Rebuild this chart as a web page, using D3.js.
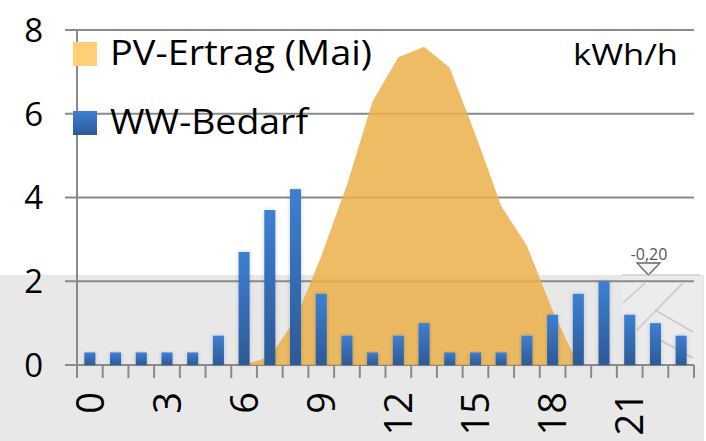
<!DOCTYPE html>
<html>
<head>
<meta charset="utf-8">
<script src="https://cdn.jsdelivr.net/npm/d3@7"></script>
<style>
  body { margin: 0; background: #fff; }
  text { font-family: "Open Sans", "Noto Sans", sans-serif; fill: #000; }
</style>
</head>
<body>
<div id="chart"></div>
<script>
// hours of the day
const hours = d3.range(0, 24);
// hot water demand (kWh/h)
const wwBedarf = [0.3, 0.3, 0.3, 0.3, 0.3, 0.7, 2.7, 3.7, 4.2, 1.7, 0.7, 0.3,
                  0.7, 1.0, 0.3, 0.3, 0.3, 0.7, 1.2, 1.7, 2.0, 1.2, 1.0, 0.7];
// PV yield in May (kWh/h)
const pvErtrag = [0, 0, 0, 0, 0, 0, 0, 0.2, 1.1, 2.6, 4.3, 6.3,
                  7.35, 7.6, 7.1, 5.5, 3.8, 2.85, 1.3, 0, 0, 0, 0, 0];
const yTicks = [0, 2, 4, 6, 8];
const xLabelHours = [0, 3, 6, 9, 12, 15, 18, 21];

const width = 706, height = 441;
const margin = { top: 30, right: 12, bottom: 76, left: 77 };

const svg = d3.select("#chart").append("svg")
  .attr("width", width)
  .attr("height", height);

const defs = svg.append("defs");
const grad = defs.append("linearGradient")
  .attr("id", "barGrad").attr("x1", 0).attr("y1", 0).attr("x2", 0).attr("y2", 1);
grad.append("stop").attr("offset", "0%").attr("stop-color", "#3d7fd3");
grad.append("stop").attr("offset", "100%").attr("stop-color", "#2c5a97");
const filt = defs.append("filter").attr("id", "shadow")
  .attr("x", "-50%").attr("y", "-10%").attr("width", "200%").attr("height", "120%");
filt.append("feDropShadow").attr("dx", 0).attr("dy", 0).attr("stdDeviation", 2)
  .attr("flood-color", "#000").attr("flood-opacity", 0.18);

// grey background strip in the lower part (image overlay)
svg.append("rect").attr("x", 0).attr("y", 275).attr("width", 704).attr("height", 166)
  .attr("fill", "#e8e8e8");
svg.append("rect").attr("x", 622).attr("y", 275).attr("width", 80).attr("height", 92)
  .attr("fill", "#ececec");

const x = d3.scaleBand().domain(hours)
  .range([margin.left, width - margin.right]).paddingInner(0.57).paddingOuter(0.285);
const xb = d3.scaleLinear().domain([0, 24]).range([margin.left, width - margin.right]);
const y = d3.scaleLinear().domain([0, 8]).range([height - margin.bottom, margin.top]);

// gridlines
svg.append("g").selectAll("line").data(yTicks).join("line")
  .attr("x1", margin.left - 12).attr("x2", width - margin.right)
  .attr("y1", d => y(d)).attr("y2", d => y(d))
  .attr("stroke", "#8a8a8a").attr("stroke-width", 2);

// hatch lines on the right overlay
const hatch = [[623, 303, 645, 283], [637, 330, 683, 283], [655, 310, 693, 332], [660, 340, 693, 358]];
svg.append("g").selectAll("line").data(hatch).join("line")
  .attr("x1", d => d[0]).attr("y1", d => d[1]).attr("x2", d => d[2]).attr("y2", d => d[3])
  .attr("stroke", "#c8c8c8").attr("stroke-width", 1.5);

// PV area (only the daylight hours, the rest lies on the baseline)
const pvStart = 6, pvEnd = 19;
svg.append("path")
  .datum(pvErtrag.slice(pvStart, pvEnd + 1))
  .attr("d", d3.area()
    .x((d, i) => x(hours[i + pvStart]) + x.bandwidth() / 2)
    .y0(y(0)).y1(d => y(d)))
  .attr("fill", "#eab04a").attr("fill-opacity", 0.85);

// bars
svg.append("g").selectAll("rect").data(wwBedarf).join("rect")
  .attr("x", (d, i) => x(hours[i]))
  .attr("width", x.bandwidth())
  .attr("y", d => y(d))
  .attr("height", d => y(0) - y(d))
  .attr("fill", "url(#barGrad)")
  .attr("filter", "url(#shadow)");

// axes lines
svg.append("line")
  .attr("x1", margin.left).attr("x2", margin.left)
  .attr("y1", y(8)).attr("y2", y(0) + 13)
  .attr("stroke", "#8a8a8a").attr("stroke-width", 2);
svg.append("g").selectAll("line").data(d3.range(1, 25)).join("line")
  .attr("x1", d => xb(d)).attr("x2", d => xb(d))
  .attr("y1", y(0)).attr("y2", y(0) + 13)
  .attr("stroke", "#8a8a8a").attr("stroke-width", 2);

// y labels
svg.append("g").selectAll("text").data(yTicks).join("text")
  .attr("x", 43).attr("y", d => y(d))
  .attr("dy", "0.36em")
  .attr("text-anchor", "end")
  .style("font-size", "33px")
  .text(d => d);

// x labels (rotated)
svg.append("g").selectAll("text").data(xLabelHours).join("text")
  .attr("transform", d => `translate(${x(d) + x.bandwidth() / 2},392) rotate(-90)`)
  .attr("dy", "0.36em")
  .attr("text-anchor", "end")
  .style("font-size", "38px")
  .text(d => d);

// unit label
svg.append("text").attr("x", 573).attr("y", 65)
  .attr("textLength", 105).attr("lengthAdjust", "spacingAndGlyphs")
  .style("font-size", "30px").text("kWh/h");

// legend
const legend = [
  { name: "PV-Ertrag (Mai)", fill: "#fdcf79", yPos: 65, len: 262 },
  { name: "WW-Bedarf", fill: "url(#barGrad)", yPos: 134, len: 198 }
];
const lg = svg.append("g").selectAll("g").data(legend).join("g");
lg.append("rect").attr("x", 73).attr("y", d => d.yPos - 23)
  .attr("width", 24).attr("height", 24).attr("fill", d => d.fill);
lg.append("text").attr("x", 110).attr("y", d => d.yPos)
  .attr("textLength", d => d.len).attr("lengthAdjust", "spacingAndGlyphs")
  .style("font-size", "35px").text(d => d.name);

// level marker "-0,20"
svg.append("text").attr("x", 649).attr("y", 260).attr("text-anchor", "middle")
  .style("font-size", "16px").style("fill", "#555").text("-0,20");
svg.append("path").attr("d", "M637,263 L660,263 L648.5,275 Z")
  .attr("fill", "#f4f4f4").attr("stroke", "#666").attr("stroke-width", 1.3);
svg.append("line").attr("x1", 622).attr("x2", 700).attr("y1", 275).attr("y2", 275)
  .attr("stroke", "#bbb").attr("stroke-width", 1);
</script>
</body>
</html>
